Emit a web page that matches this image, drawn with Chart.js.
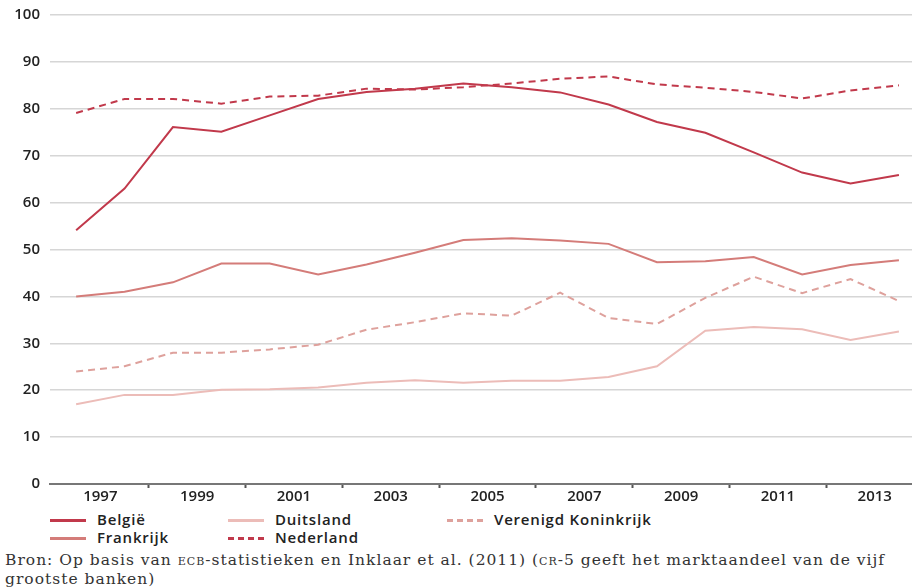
<!DOCTYPE html>
<html>
<head>
<meta charset="utf-8">
<script src="https://cdn.jsdelivr.net/npm/chart.js@4"></script>
<style>
  body { margin: 0; background: #fff; width: 912px; height: 588px; overflow: hidden; position: relative; }
  #wrap { position: absolute; left: 0; top: 0; width: 912px; height: 502px; }
  .leg { position: absolute; font-family: "Open Sans", sans-serif; font-weight: 600; font-size: 15px; letter-spacing: 0.8px; color: #222; line-height: 16px; white-space: nowrap; }
  .sw { position: absolute; width: 36px; height: 0; }
  #bron { position: absolute; left: 5px; top: 551px; font-family: "DejaVu Serif", serif; font-size: 15.5px; letter-spacing: 1px; color: #333; line-height: 19px; white-space: nowrap; }
  .sc { font-variant: small-caps; text-transform: lowercase; }
</style>
</head>
<body>
<div id="wrap"><canvas id="myChart" width="912" height="502"></canvas></div>
<div id="legend"></div>
<div id="bron">Bron: Op basis van <span class="sc">ECB</span>-statistieken en Inklaar et al. (2011) (<span class="sc">CR</span>-5 geeft het marktaandeel van de vijf<br>grootste banken)</div>
<script>
  // jaren en waarden (CR-5, %)
  const jaren = [1997, 1998, 1999, 2000, 2001, 2002, 2003, 2004, 2005, 2006, 2007, 2008, 2009, 2010, 2011, 2012, 2013, 2014];
  const jaarLabels = ["1997", "1999", "2001", "2003", "2005", "2007", "2009", "2011", "2013"];

  const belgie = [54.1, 63.0, 76.1, 75.1, 78.6, 82.1, 83.6, 84.3, 85.4, 84.6, 83.5, 80.9, 77.2, 74.9, 70.7, 66.4, 64.1, 65.9];
  const nederland = [79.1, 82.1, 82.1, 81.1, 82.6, 82.8, 84.3, 84.1, 84.6, 85.4, 86.4, 86.9, 85.2, 84.5, 83.6, 82.2, 83.9, 85.0];
  const frankrijk = [40.0, 41.0, 43.0, 47.0, 47.0, 44.7, 46.8, 49.3, 52.0, 52.4, 51.9, 51.2, 47.3, 47.5, 48.4, 44.7, 46.7, 47.7];
  const verenigdKoninkrijk = [24.0, 25.1, 28.0, 28.0, 28.7, 29.7, 32.9, 34.5, 36.4, 35.9, 40.8, 35.4, 34.1, 39.7, 44.2, 40.7, 43.7, 39.0];
  const duitsland = [17.0, 19.0, 19.0, 20.1, 20.2, 20.6, 21.6, 22.1, 21.6, 22.0, 22.0, 22.8, 25.1, 32.7, 33.5, 33.0, 30.7, 32.5];

  const yTicks = [0, 10, 20, 30, 40, 50, 60, 70, 80, 90, 100];

  const kleuren = {
    belgie: "#c1394b",
    nederland: "#c1394b",
    frankrijk: "#d47c79",
    vk: "#dea19c",
    duitsland: "#ecbcb8"
  };

  function punten(waarden) {
    return waarden.map((v, i) => ({ x: jaren[i], y: v }));
  }

  const series = [
    { label: "België", data: belgie, color: kleuren.belgie, dash: [] },
    { label: "Frankrijk", data: frankrijk, color: kleuren.frankrijk, dash: [] },
    { label: "Duitsland", data: duitsland, color: kleuren.duitsland, dash: [] },
    { label: "Nederland", data: nederland, color: kleuren.nederland, dash: [7, 5] },
    { label: "Verenigd Koninkrijk", data: verenigdKoninkrijk, color: kleuren.vk, dash: [7, 5] }
  ];

  const datasets = series.map(s => ({
    label: s.label,
    data: punten(s.data),
    borderColor: s.color,
    borderWidth: 2,
    borderDash: s.dash,
    pointRadius: 0,
    tension: 0,
    fill: false
  }));

  const tickFont = { family: "'Open Sans', sans-serif", size: 15, weight: "600" };

  new Chart(document.getElementById("myChart"), {
    type: "line",
    data: { datasets },
    options: {
      responsive: false,
      animation: false,
      layout: { padding: { top: 15, right: 0, left: 0, bottom: 0 } },
      plugins: { legend: { display: false }, tooltip: { enabled: false } },
      scales: {
        x: {
          type: "linear",
          min: 1996.46,
          max: 2014.27,
          afterBuildTicks: (scale) => {
            const t = [];
            for (let v = 1997.5; v <= 2013.5; v += 1) t.push({ value: v });
            scale.ticks = t;
          },
          afterFit: (scale) => { scale.height = 18; },
          ticks: {
            autoSkip: false,
            maxRotation: 0,
            padding: 0,
            color: "#222",
            font: tickFont,
            callback: (v) => {
              const idx = (v - 1997.5) / 2;
              return Number.isInteger(idx) ? jaarLabels[idx] : "";
            }
          },
          grid: {
            drawOnChartArea: false,
            drawTicks: true,
            tickLength: 4,
            tickWidth: 2,
            tickColor: (ctx) => {
              const v = ctx.tick ? ctx.tick.value : 0;
              return Number.isInteger((v - 1998.5) / 2) ? "#555" : "rgba(0,0,0,0)";
            }
          },
          border: { display: true, color: "#777", width: 2 }
        },
        y: {
          min: 0,
          max: 100,
          afterBuildTicks: (scale) => { scale.ticks = yTicks.map(v => ({ value: v })); },
          afterFit: (scale) => {
            scale.width = 50;
            scale.paddingTop = 0;
            scale.paddingBottom = 0;
          },
          ticks: { autoSkip: false, color: "#222", font: tickFont, padding: 10 },
          grid: { color: "#d6d6d6", lineWidth: 1.5, drawTicks: false },
          border: { display: false }
        }
      }
    }
  });

  // handmatige legenda
  const legendItems = [
    { label: "België", color: kleuren.belgie, dash: false, x: 50, y: 520 },
    { label: "Frankrijk", color: kleuren.frankrijk, dash: false, x: 50, y: 538 },
    { label: "Duitsland", color: kleuren.duitsland, dash: false, x: 228, y: 520 },
    { label: "Nederland", color: kleuren.nederland, dash: true, x: 228, y: 538 },
    { label: "Verenigd Koninkrijk", color: kleuren.vk, dash: true, x: 447, y: 520 }
  ];
  const legendDom = document.getElementById("legend");
  legendItems.forEach(it => {
    const sw = document.createElement("div");
    sw.className = "sw";
    sw.style.left = it.x + "px";
    sw.style.top = (it.y - 1) + "px";
    sw.style.borderTop = "3px " + (it.dash ? "dashed " : "solid ") + it.color;
    legendDom.appendChild(sw);
    const tx = document.createElement("div");
    tx.className = "leg";
    tx.style.left = (it.x + 47) + "px";
    tx.style.top = (it.y - 9) + "px";
    tx.textContent = it.label;
    legendDom.appendChild(tx);
  });
</script>
</body>
</html>
